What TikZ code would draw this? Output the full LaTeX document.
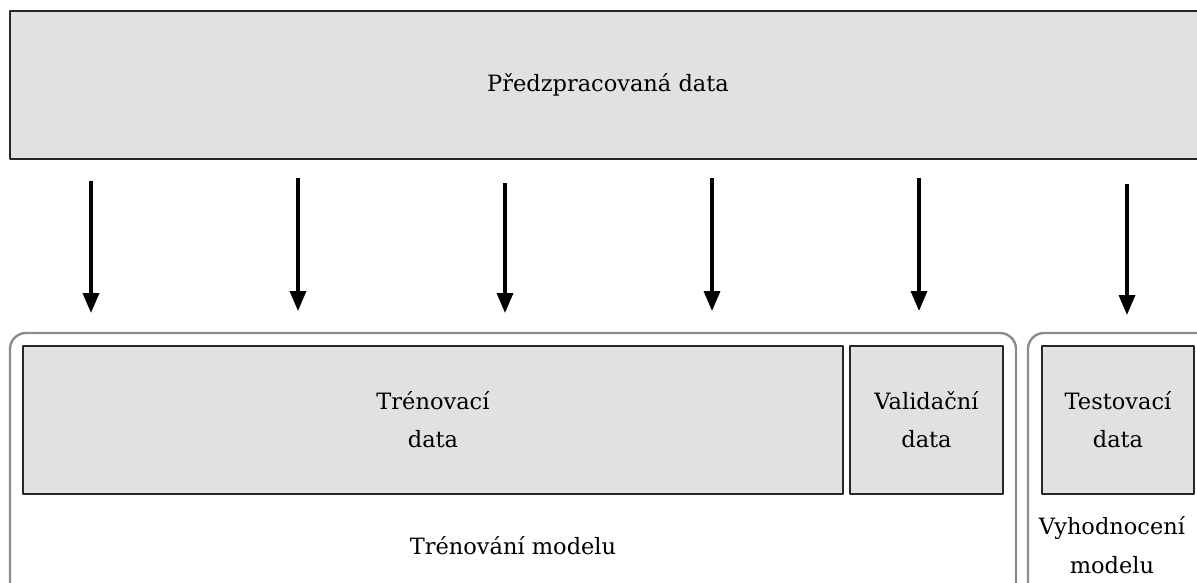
\documentclass[tikz,border=0pt]{standalone}
\usepackage{fontspec}
\setmainfont{DejaVu Serif}
\usetikzlibrary{arrows.meta}
\definecolor{boxgray}{HTML}{E1E1E1}
\definecolor{boxline}{HTML}{262626}
\definecolor{grpline}{HTML}{8C8C8C}
\tikzset{
  databox/.style={draw=boxline, line width=2.8pt, fill=boxgray, align=center,
    inner sep=0pt, font=\fontsize{22.5}{38}\selectfont},
  groupbox/.style={draw=grpline, line width=2.4pt, rounded corners=16pt, inner sep=0pt},
  txt/.style={align=center, inner sep=0pt, font=\fontsize{22.5}{39}\selectfont},
  flow/.style={line width=3.4pt, -{Triangle[length=20pt,width=16pt]}}
}
\begin{document}
\begin{tikzpicture}[x=1pt, y=-1pt, line join=round]
\useasboundingbox (0,0) rectangle (1197,582);
\clip (0,0) rectangle (1197,582);
% top
\node[databox, minimum width=1196pt, minimum height=148pt] (pre) at (608,85) {Předzpracovaná data};
% groups
\node[groupbox, minimum width=1006pt, minimum height=280pt] (train) at (513,473) {};
\node[groupbox, minimum width=200pt, minimum height=280pt] (eval) at (1128,473) {};
% data sets
\node[databox, minimum width=820pt, minimum height=148pt] (trn) at (433,420) {Trénovací\\data};
\node[databox, minimum width=153pt, minimum height=148pt] (val) at (926.5,420) {Validační\\data};
\node[databox, minimum width=152pt, minimum height=148pt] (tst) at (1118,420) {Testovací\\data};
\node[txt] (trainlbl) at (513,546) {Trénování modelu};
\node[txt] (evallbl) at (1112,545) {Vyhodnocení\\modelu};
% arrows
\foreach \x/\ys/\ye [count=\i] in {91/181/313, 298/178/311, 505/183/313, 712/178/311, 919/178/311, 1127/184/315}{
  \coordinate (s\i) at (\x,\ys);
  \coordinate (e\i) at (\x,\ye);
  \draw[flow] (s\i) -- (e\i);
}
\end{tikzpicture}
\end{document}
